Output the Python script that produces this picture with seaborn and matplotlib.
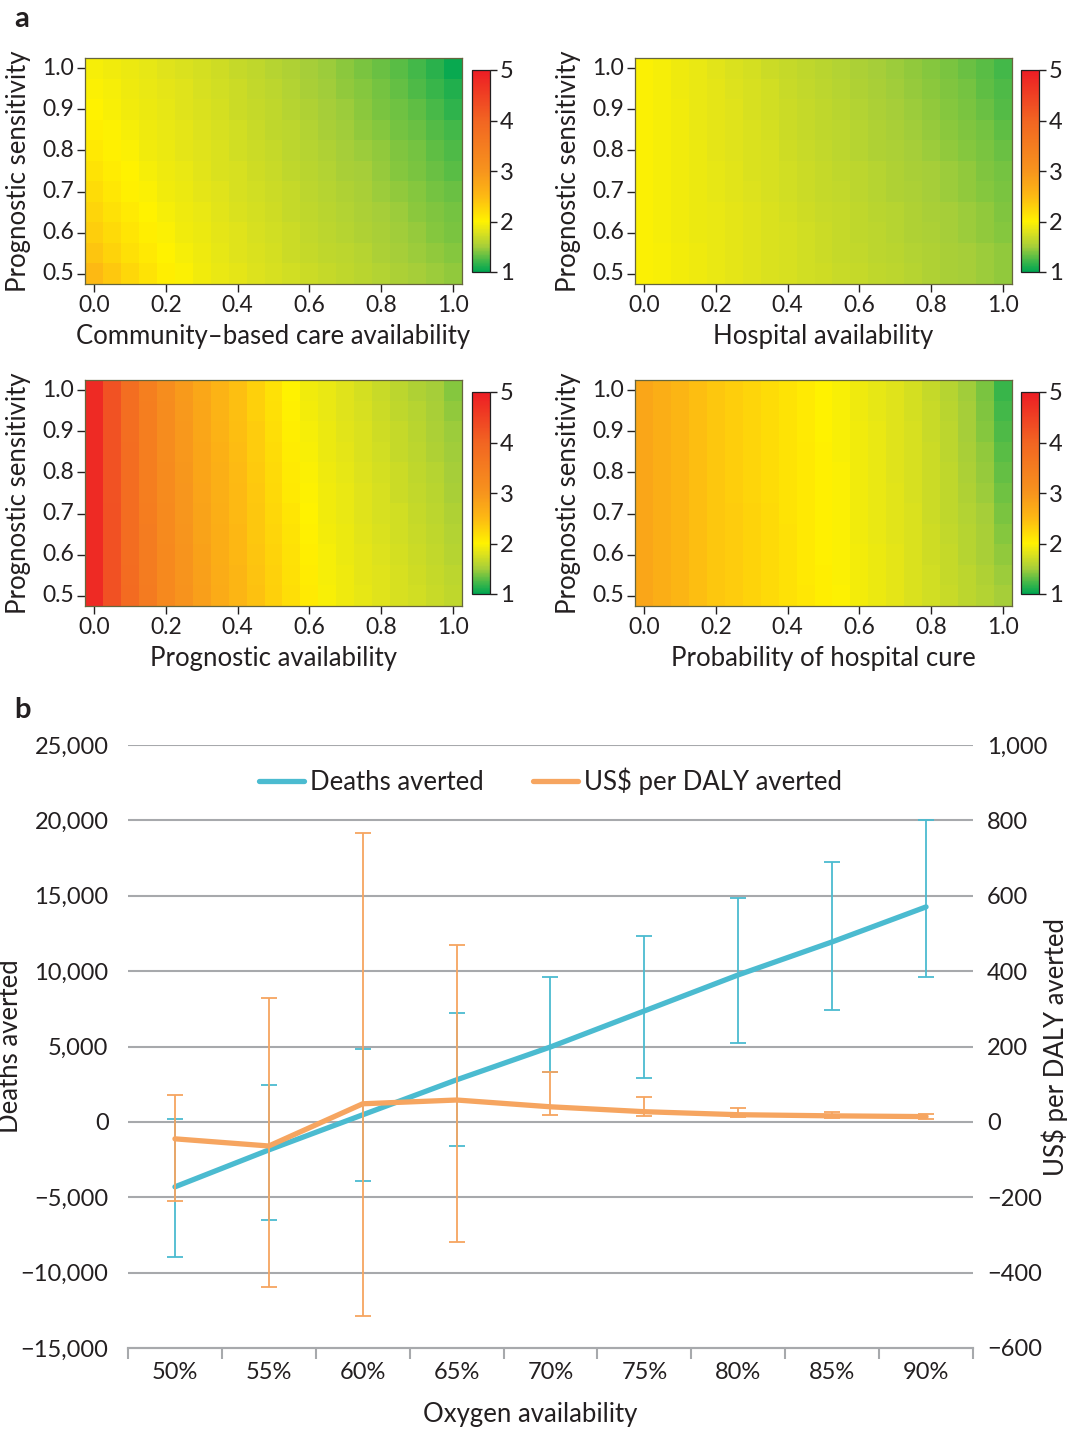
import numpy as np
import pandas as pd
import seaborn as sns
import matplotlib.pyplot as plt
from matplotlib.colors import LinearSegmentedColormap

sns.set_theme(style="white")
plt.rcParams['font.family'] = ['Lato', 'DejaVu Sans']
ink = '#231f20'
plt.rcParams['text.color'] = ink
plt.rcParams['axes.labelcolor'] = ink
plt.rcParams['xtick.color'] = ink
plt.rcParams['ytick.color'] = ink

# ---- panel a: heatmap grids (rows: sensitivity 1.0 -> 0.5, cols: x 0.0 -> 1.0)
x_vals = [0.0, 0.05, 0.1, 0.15, 0.2, 0.25, 0.3, 0.35, 0.4, 0.45, 0.5,
          0.55, 0.6, 0.65, 0.7, 0.75, 0.8, 0.85, 0.9, 0.95, 1.0]
sens = [1.0, 0.95, 0.9, 0.85, 0.8, 0.75, 0.7, 0.65, 0.6, 0.55, 0.5]
x_ticks = [0.0, 0.2, 0.4, 0.6, 0.8, 1.0]
y_ticks = [1.0, 0.9, 0.8, 0.7, 0.6, 0.5]
cbar_ticks = [1, 2, 3, 4, 5]

community = [
    [1.95, 1.92, 1.88, 1.85, 1.81, 1.78, 1.74, 1.71, 1.67, 1.63, 1.59, 1.55, 1.51, 1.47, 1.43, 1.38, 1.34, 1.29, 1.23, 1.15, 1.04],
    [1.97, 1.94, 1.90, 1.87, 1.83, 1.80, 1.76, 1.73, 1.69, 1.65, 1.61, 1.57, 1.53, 1.49, 1.45, 1.41, 1.36, 1.32, 1.26, 1.20, 1.11],
    [2.00, 1.96, 1.92, 1.89, 1.85, 1.81, 1.78, 1.74, 1.70, 1.67, 1.63, 1.59, 1.55, 1.51, 1.47, 1.43, 1.39, 1.35, 1.30, 1.24, 1.17],
    [2.04, 1.99, 1.94, 1.90, 1.87, 1.83, 1.79, 1.76, 1.72, 1.68, 1.64, 1.61, 1.57, 1.53, 1.49, 1.45, 1.41, 1.37, 1.33, 1.28, 1.22],
    [2.08, 2.02, 1.97, 1.92, 1.88, 1.84, 1.81, 1.77, 1.73, 1.70, 1.66, 1.62, 1.59, 1.55, 1.51, 1.47, 1.44, 1.40, 1.36, 1.31, 1.26],
    [2.13, 2.06, 2.00, 1.95, 1.90, 1.86, 1.82, 1.78, 1.75, 1.71, 1.68, 1.64, 1.60, 1.57, 1.53, 1.50, 1.46, 1.42, 1.38, 1.34, 1.29],
    [2.19, 2.10, 2.03, 1.97, 1.92, 1.88, 1.84, 1.80, 1.76, 1.73, 1.69, 1.66, 1.62, 1.59, 1.55, 1.52, 1.48, 1.45, 1.41, 1.37, 1.33],
    [2.25, 2.15, 2.07, 2.00, 1.95, 1.90, 1.86, 1.82, 1.78, 1.74, 1.71, 1.67, 1.64, 1.60, 1.57, 1.54, 1.50, 1.47, 1.43, 1.40, 1.36],
    [2.32, 2.21, 2.11, 2.04, 1.98, 1.92, 1.88, 1.84, 1.80, 1.76, 1.72, 1.69, 1.65, 1.62, 1.59, 1.56, 1.52, 1.49, 1.46, 1.42, 1.39],
    [2.40, 2.28, 2.17, 2.08, 2.01, 1.95, 1.90, 1.85, 1.81, 1.77, 1.74, 1.70, 1.67, 1.64, 1.61, 1.58, 1.54, 1.51, 1.48, 1.45, 1.42],
    [2.50, 2.36, 2.24, 2.13, 2.04, 1.97, 1.92, 1.87, 1.83, 1.79, 1.75, 1.72, 1.69, 1.66, 1.63, 1.60, 1.57, 1.54, 1.51, 1.48, 1.45],
]

hospital = [
    [1.97, 1.94, 1.90, 1.86, 1.82, 1.78, 1.74, 1.70, 1.67, 1.63, 1.60, 1.57, 1.54, 1.51, 1.48, 1.45, 1.41, 1.38, 1.34, 1.29, 1.22],
    [1.97, 1.94, 1.90, 1.86, 1.83, 1.79, 1.75, 1.72, 1.68, 1.65, 1.62, 1.59, 1.55, 1.52, 1.49, 1.46, 1.43, 1.40, 1.36, 1.31, 1.25],
    [1.97, 1.94, 1.91, 1.87, 1.83, 1.80, 1.76, 1.73, 1.69, 1.66, 1.63, 1.60, 1.57, 1.54, 1.51, 1.48, 1.45, 1.42, 1.38, 1.34, 1.28],
    [1.97, 1.94, 1.91, 1.87, 1.84, 1.80, 1.77, 1.74, 1.70, 1.67, 1.64, 1.61, 1.58, 1.55, 1.52, 1.49, 1.46, 1.43, 1.40, 1.36, 1.31],
    [1.97, 1.95, 1.91, 1.88, 1.84, 1.81, 1.78, 1.75, 1.71, 1.68, 1.65, 1.62, 1.59, 1.56, 1.54, 1.51, 1.48, 1.45, 1.42, 1.38, 1.33],
    [1.97, 1.95, 1.92, 1.88, 1.85, 1.82, 1.78, 1.75, 1.72, 1.69, 1.66, 1.63, 1.61, 1.58, 1.55, 1.52, 1.50, 1.47, 1.44, 1.40, 1.36],
    [1.98, 1.95, 1.92, 1.89, 1.85, 1.82, 1.79, 1.76, 1.73, 1.70, 1.67, 1.65, 1.62, 1.59, 1.56, 1.54, 1.51, 1.48, 1.45, 1.42, 1.38],
    [1.98, 1.95, 1.92, 1.89, 1.86, 1.83, 1.80, 1.77, 1.74, 1.71, 1.68, 1.66, 1.63, 1.60, 1.58, 1.55, 1.52, 1.50, 1.47, 1.44, 1.40],
    [1.98, 1.95, 1.92, 1.89, 1.86, 1.83, 1.80, 1.77, 1.75, 1.72, 1.69, 1.67, 1.64, 1.61, 1.59, 1.56, 1.54, 1.51, 1.48, 1.45, 1.42],
    [1.98, 1.96, 1.93, 1.90, 1.87, 1.84, 1.81, 1.78, 1.75, 1.73, 1.70, 1.67, 1.65, 1.62, 1.60, 1.57, 1.55, 1.52, 1.50, 1.47, 1.44],
    [1.98, 1.96, 1.93, 1.90, 1.87, 1.84, 1.81, 1.78, 1.76, 1.73, 1.71, 1.68, 1.66, 1.63, 1.61, 1.58, 1.56, 1.53, 1.51, 1.48, 1.45],
]

prognostic = [
    [4.80, 4.25, 3.80, 3.45, 3.15, 2.92, 2.74, 2.58, 2.44, 2.30, 2.15, 2.00, 1.92, 1.86, 1.80, 1.74, 1.68, 1.62, 1.56, 1.50, 1.42],
    [4.80, 4.25, 3.81, 3.46, 3.16, 2.93, 2.75, 2.59, 2.45, 2.31, 2.17, 2.02, 1.93, 1.87, 1.81, 1.75, 1.70, 1.64, 1.58, 1.52, 1.44],
    [4.80, 4.25, 3.81, 3.46, 3.17, 2.94, 2.76, 2.60, 2.46, 2.33, 2.18, 2.04, 1.94, 1.88, 1.82, 1.77, 1.71, 1.66, 1.60, 1.54, 1.47],
    [4.80, 4.26, 3.82, 3.47, 3.18, 2.95, 2.77, 2.62, 2.47, 2.34, 2.20, 2.06, 1.96, 1.89, 1.83, 1.78, 1.73, 1.67, 1.62, 1.56, 1.49],
    [4.80, 4.26, 3.82, 3.48, 3.19, 2.96, 2.78, 2.63, 2.49, 2.35, 2.21, 2.07, 1.97, 1.90, 1.85, 1.79, 1.74, 1.69, 1.63, 1.58, 1.51],
    [4.80, 4.26, 3.83, 3.48, 3.20, 2.97, 2.79, 2.64, 2.50, 2.37, 2.23, 2.09, 1.99, 1.91, 1.86, 1.80, 1.75, 1.70, 1.65, 1.60, 1.53],
    [4.80, 4.27, 3.83, 3.49, 3.21, 2.98, 2.80, 2.65, 2.51, 2.38, 2.24, 2.11, 2.00, 1.92, 1.87, 1.81, 1.76, 1.72, 1.67, 1.62, 1.55],
    [4.80, 4.27, 3.84, 3.50, 3.21, 2.99, 2.81, 2.66, 2.52, 2.39, 2.26, 2.13, 2.02, 1.93, 1.88, 1.82, 1.78, 1.73, 1.68, 1.64, 1.57],
    [4.80, 4.27, 3.84, 3.50, 3.22, 3.00, 2.82, 2.67, 2.53, 2.40, 2.27, 2.15, 2.04, 1.94, 1.89, 1.83, 1.79, 1.74, 1.70, 1.65, 1.59],
    [4.80, 4.28, 3.85, 3.51, 3.23, 3.01, 2.84, 2.68, 2.55, 2.42, 2.29, 2.17, 2.06, 1.95, 1.90, 1.84, 1.80, 1.75, 1.71, 1.67, 1.61],
    [4.80, 4.28, 3.86, 3.52, 3.24, 3.02, 2.85, 2.70, 2.56, 2.43, 2.30, 2.18, 2.07, 1.96, 1.90, 1.85, 1.80, 1.76, 1.72, 1.68, 1.63],
]

cure = [
    [2.75, 2.65, 2.55, 2.46, 2.38, 2.32, 2.26, 2.20, 2.13, 2.07, 2.01, 1.96, 1.90, 1.85, 1.80, 1.74, 1.67, 1.59, 1.49, 1.38, 1.20],
    [2.75, 2.65, 2.55, 2.46, 2.38, 2.32, 2.26, 2.20, 2.13, 2.07, 2.01, 1.96, 1.90, 1.85, 1.80, 1.74, 1.68, 1.60, 1.50, 1.40, 1.23],
    [2.75, 2.65, 2.55, 2.46, 2.38, 2.32, 2.26, 2.20, 2.13, 2.07, 2.01, 1.96, 1.91, 1.86, 1.80, 1.75, 1.68, 1.61, 1.51, 1.42, 1.26],
    [2.75, 2.65, 2.55, 2.46, 2.38, 2.32, 2.26, 2.20, 2.14, 2.08, 2.02, 1.96, 1.91, 1.86, 1.81, 1.75, 1.69, 1.62, 1.53, 1.44, 1.29],
    [2.75, 2.65, 2.55, 2.46, 2.38, 2.32, 2.26, 2.20, 2.14, 2.08, 2.02, 1.97, 1.91, 1.86, 1.81, 1.76, 1.69, 1.63, 1.54, 1.46, 1.32],
    [2.75, 2.65, 2.55, 2.46, 2.39, 2.32, 2.26, 2.20, 2.14, 2.08, 2.02, 1.97, 1.92, 1.87, 1.82, 1.76, 1.70, 1.63, 1.55, 1.48, 1.35],
    [2.75, 2.65, 2.55, 2.46, 2.39, 2.33, 2.27, 2.21, 2.14, 2.08, 2.03, 1.97, 1.92, 1.87, 1.82, 1.77, 1.70, 1.64, 1.57, 1.50, 1.38],
    [2.75, 2.65, 2.55, 2.46, 2.39, 2.33, 2.27, 2.21, 2.15, 2.09, 2.03, 1.98, 1.92, 1.87, 1.82, 1.77, 1.71, 1.65, 1.58, 1.52, 1.41],
    [2.75, 2.65, 2.55, 2.46, 2.39, 2.33, 2.27, 2.21, 2.15, 2.09, 2.03, 1.98, 1.93, 1.88, 1.83, 1.78, 1.71, 1.66, 1.59, 1.53, 1.44],
    [2.75, 2.65, 2.55, 2.46, 2.39, 2.33, 2.27, 2.21, 2.15, 2.09, 2.04, 1.98, 1.93, 1.88, 1.83, 1.78, 1.72, 1.67, 1.61, 1.55, 1.47],
    [2.75, 2.65, 2.55, 2.46, 2.39, 2.33, 2.27, 2.21, 2.15, 2.10, 2.04, 1.99, 1.93, 1.88, 1.83, 1.78, 1.72, 1.68, 1.62, 1.57, 1.50],
]

# ---- panel b
oxygen = ['50%', '55%', '60%', '65%', '70%', '75%', '80%', '85%', '90%']
deaths = [-4310, -1860, 470, 2790, 4970, 7360, 9750, 11940, 14260]
deaths_lo = [-8950, -6500, -3910, -1570, 3340, 2940, 5240, 7430, 9620]
deaths_hi = [200, 2450, 4840, 7230, 9630, 12330, 14850, 17240, 20030]
cost = [-45, -64, 48, 58, 40, 27, 19, 16, 14]
cost_lo = [-210, -437, -514, -318, 18, 16, 13, 11, 8]
cost_hi = [72, 330, 766, 468, 133, 66, 37, 27, 21]
left_ticks = [-15000, -10000, -5000, 0, 5000, 10000, 15000, 20000, 25000]
left_labels = ['\u221215,000', '\u221210,000', '\u22125,000', '0', '5,000', '10,000', '15,000', '20,000', '25,000']
right_ticks = [-600, -400, -200, 0, 200, 400, 600, 800, 1000]
right_labels = ['\u2212600', '\u2212400', '\u2212200', '0', '200', '400', '600', '800', '1,000']

blue = '#4bbbd0'
orange = '#f6a560'
grid = '#a7a9ac'

cmap = LinearSegmentedColormap.from_list('gyr', [
    (0.0, '#00a651'), (0.05, '#3cb64a'), (0.125, '#a6ce39'), (0.2, '#e0e31b'),
    (0.25, '#fff200'), (0.375, '#fdb913'), (0.5, '#f7941d'), (0.75, '#f26522'),
    (1.0, '#ed1c24')])

fig = plt.figure(figsize=(10.67, 14.29), dpi=100)

W, H = 1067, 1429


def frac(x0, y0, x1, y1):
    return [x0 / W, 1 - y1 / H, (x1 - x0) / W, (y1 - y0) / H]


panels = [
    (community, 'Community\u2013based care availability', (85, 58, 462, 284), (472, 70, 490, 272)),
    (hospital, 'Hospital availability', (635, 58, 1012, 284), (1021, 70, 1039, 272)),
    (prognostic, 'Prognostic availability', (85, 380, 462, 606), (472, 392, 490, 594)),
    (cure, 'Probability of hospital cure', (635, 380, 1012, 606), (1021, 392, 1039, 594)),
]

for values, xlabel, box, cbox in panels:
    ax = fig.add_axes(frac(*box))
    cax = fig.add_axes(frac(*cbox))
    df = pd.DataFrame(values, index=sens, columns=x_vals)
    sns.heatmap(df, ax=ax, cbar_ax=cax, cmap=cmap, vmin=1, vmax=5)
    ax.set_xticks([x_vals.index(v) + 0.5 for v in x_ticks])
    ax.set_xticklabels([f'{v:.1f}' for v in x_ticks], rotation=0, fontsize=16.5)
    ax.set_yticks([sens.index(v) + 0.5 for v in y_ticks])
    ax.set_yticklabels([f'{v:.1f}' for v in y_ticks], rotation=0, fontsize=16.5)
    ax.tick_params(left=True, bottom=True, length=6, width=1, pad=2, color=ink)
    for s in ax.spines.values():
        s.set_visible(True)
        s.set_color('#66663d')
        s.set_linewidth(0.9)
    ax.set_xlabel(xlabel, fontsize=18.5, labelpad=6)
    ax.set_ylabel('Prognostic sensitivity', fontsize=18.5, labelpad=8)
    cb = ax.collections[0].colorbar
    cb.set_ticks(cbar_ticks)
    cb.set_ticklabels([str(t) for t in cbar_ticks])
    cax.tick_params(right=True, length=5, width=1, labelsize=17, pad=2, color=ink)
    cb.outline.set_visible(True)
    cb.outline.set_edgecolor(ink)
    cb.outline.set_linewidth(0.9)

# ---- panel b chart
ax = fig.add_axes(frac(128, 745, 973, 1348))
ax2 = ax.twinx()
xpos = np.arange(len(oxygen))

ax.set_ylim(-15000, 25000)
ax2.set_ylim(-600, 1000)
ax.set_xlim(-0.5, len(oxygen) - 0.5)

for y in left_ticks[1:]:
    ax.axhline(y, color=grid, linewidth=1.5, zorder=0)

d = np.array(deaths)
ax.errorbar(xpos, d, yerr=[d - np.array(deaths_lo), np.array(deaths_hi) - d], fmt='none',
            ecolor=blue, elinewidth=1.3, capsize=6, capthick=1.3, zorder=2)
sns.lineplot(x=xpos, y=deaths, ax=ax, color=blue, linewidth=3.8, zorder=3, label='Deaths averted', legend=False)

c = np.array(cost)
ax2.errorbar(xpos, c, yerr=[c - np.array(cost_lo), np.array(cost_hi) - c], fmt='none',
             ecolor=orange, elinewidth=1.3, capsize=6, capthick=1.3, zorder=2)
sns.lineplot(x=xpos, y=cost, ax=ax2, color=orange, linewidth=3.8, zorder=3, label='US$ per DALY averted', legend=False)

ax.set_yticks(left_ticks)
ax.set_yticklabels(left_labels, fontsize=17)
ax2.set_yticks(right_ticks)
ax2.set_yticklabels(right_labels, fontsize=17)
ax.tick_params(axis='y', left=False, length=0, pad=14)
ax2.tick_params(axis='y', right=False, length=0, pad=10)

ax.set_xticks(xpos)
ax.set_xticklabels(oxygen, fontsize=17)
ax.set_xticks(np.arange(len(oxygen) + 1) - 0.5, minor=True)
ax.tick_params(axis='x', which='major', bottom=False, length=0, pad=10)
ax.tick_params(axis='x', which='minor', bottom=True, length=8, width=1.5, color=grid)

for a in (ax, ax2):
    for name, s in a.spines.items():
        s.set_visible(name == 'bottom')
    a.spines['bottom'].set_color(grid)
    a.spines['bottom'].set_linewidth(1.5)

ax.set_xlabel('Oxygen availability', fontsize=18.5)
ax.xaxis.set_label_coords(0.476, -0.090)
ax.set_ylabel('Deaths averted', fontsize=18.5)
ax.yaxis.set_label_coords(-0.124, 0.5)
ax2.set_ylabel('US$ per DALY averted', fontsize=18.5, rotation=90)
ax2.yaxis.set_label_coords(1.081, 0.5)

h1, l1 = ax.get_legend_handles_labels()
h2, l2 = ax2.get_legend_handles_labels()
ax2.legend(h1 + h2, l1 + l2, loc='center', bbox_to_anchor=(0.5, 0.94), ncol=2, frameon=False,
           fontsize=18.5, handlelength=1.75, columnspacing=1.9, handletextpad=0.25)

fig.text(14 / W, 1 - 6 / H, 'a', fontsize=21, fontweight='bold', va='top', ha='left')
fig.text(14 / W, 1 - 697 / H, 'b', fontsize=21, fontweight='bold', va='top', ha='left')

fig.savefig('out.png', dpi=100)
